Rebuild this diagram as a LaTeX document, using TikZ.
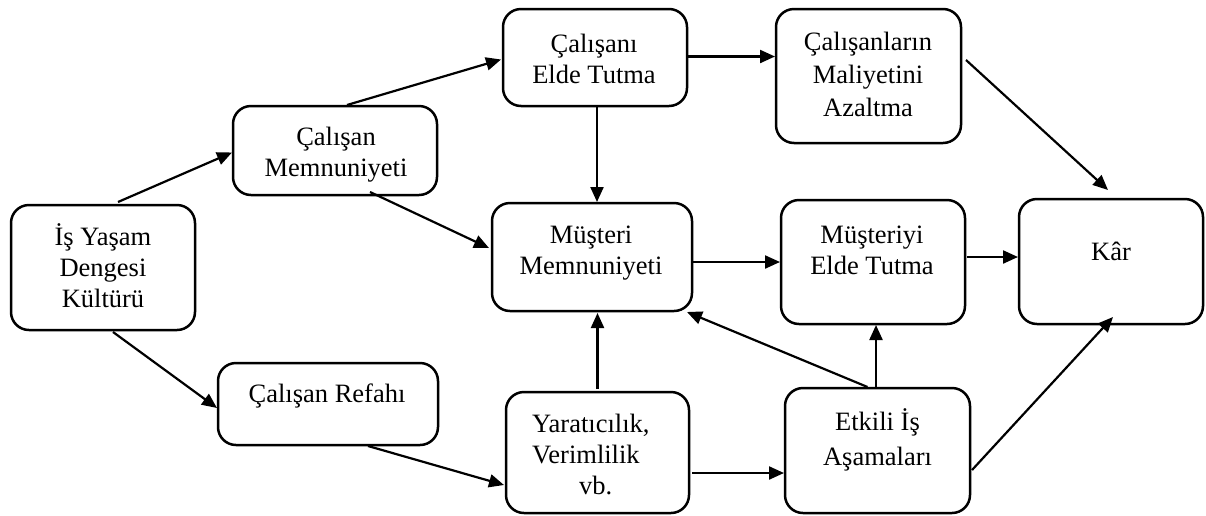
\documentclass[tikz,border=0pt]{standalone}
\usepackage{fontspec}
\setmainfont{Liberation Serif}
\usetikzlibrary{arrows.meta,calc}
% strut that fixes the height of a first text line
\newcommand\firstln{\rule{0pt}{25pt}}
\begin{document}
\begin{tikzpicture}[x=1pt,y=-1pt,
  box/.style={draw, line width=2.5pt, rounded corners=18pt, inner sep=0pt, outer sep=0pt},
  lbl/.style={font=\fontsize{26.5}{31}\selectfont, align=center, inner sep=0pt, anchor=north},
  arr/.style={line width=2.2pt, -{Triangle[length=15pt,width=13pt]}}]
\useasboundingbox (0,0) rectangle (1206,515);

% boxes
\node[box, minimum width=184pt, minimum height=125pt] (is)  at (103,267.5) {};
\node[box, minimum width=204pt, minimum height=89pt]  (cm)  at (335,150.5) {};
\node[box, minimum width=220pt, minimum height=82pt]  (cr)  at (328,404) {};
\node[box, minimum width=184pt, minimum height=97pt]  (cet) at (595,57.5) {};
\node[box, minimum width=185pt, minimum height=134pt] (cma) at (868.5,76) {};
\node[box, minimum width=200pt, minimum height=108pt] (mm)  at (592,257) {};
\node[box, minimum width=184pt, minimum height=124pt] (met) at (873,262) {};
\node[box, minimum width=184pt, minimum height=125pt] (kar) at (1111,261.5) {};
\node[box, minimum width=183pt, minimum height=121pt] (yv)  at (597.5,452.5) {};
\node[box, minimum width=185pt, minimum height=125pt] (eia) at (877.5,450.5) {};

% labels
\node[lbl] (is-t)  at (103,220)  {\firstln İş Yaşam\\Dengesi\\Kültürü};
\node[lbl] (cm-t)  at (336,120)  {\firstln Çalışan\\Memnuniyeti};
\node[lbl] (cr-t)  at (327,377)  {\firstln Çalışan Refahı};
\node[lbl] (cet-t) at (594,27)   {\firstln Çalışanı\\Elde Tutma};
\node[lbl] (cma-t) at (868,25)   {\firstln Çalışanların\\[2pt]Maliyetini\\[2pt]Azaltma};
\node[lbl] (mm-t)  at (591,218)  {\firstln Müşteri\\Memnuniyeti};
\node[lbl] (met-t) at (872,218)  {\firstln Müşteriyi\\Elde Tutma};
\node[lbl] (kar-t) at (1111,235) {\firstln Kâr};
\node[lbl, align=left, anchor=north west] (yv-t) at (532,407)
  {\firstln Yaratıcılık,\\Verimlilik\\\hspace*{47pt}vb.};
\node[lbl] (eia-t) at (877.5,405) {\firstln Etkili İş\\[4pt]Aşamaları};

% connectors
\draw[arr] ($(is.north)+(15,-3)$) -- ($(cm.west)+(-1,2)$);
\draw[arr] ($(is.south)+(10,2)$) -- ($(cr.west)+(-1,4)$);
\draw[arr] ($(cm.north)+(12,-1)$) -- ($(cet.west)+(-2,2)$);
\draw[arr] ($(cm.south)+(35,-3)$) -- ($(mm.west)+(-3,-9)$);
\draw[arr] ($(cet.east)+(0,-1)$) coordinate (e1) -- ($(e1 -| cma.west)+(-1,0)$);
\draw[arr] ($(cet.south)+(2,0)$) coordinate (f1) -- ($(f1 |- mm.north)+(0,-1)$);
\draw[arr] ($(cma.east)+(5,-16)$) -- ($(kar.north)+(-3,-9)$);
\draw[arr] ($(mm.east)+(0,5)$) coordinate (h1) -- ($(h1 -| met.west)+(-1,0)$);
\draw[arr] ($(met.east)+(2,-5)$) coordinate (i1) -- ($(i1 -| kar.west)+(-1,0)$);
\draw[arr] ($(cr.south)+(40,1)$) -- ($(yv.west)+(-2,32.5)$);
\draw[arr] ($(yv.north)+(0,-3)$) coordinate (k1) -- ($(k1 |- mm.south)+(0,2)$);
\draw[arr] ($(yv.east)+(3,20.5)$) coordinate (l1) -- ($(l1 -| eia.west)+(-1,0)$);
\draw[arr] ($(eia.north)+(-10,-1)$) -- ($(mm.south east)+(-5,1)$);
\draw[arr] ($(eia.north)+(-1.5,-1)$) coordinate (n1) -- ($(n1 |- met.south)+(0,1)$);
\draw[arr] ($(eia.east)+(2,19.5)$) -- ($(kar.south)+(2,-7)$);
\end{tikzpicture}
\end{document}
